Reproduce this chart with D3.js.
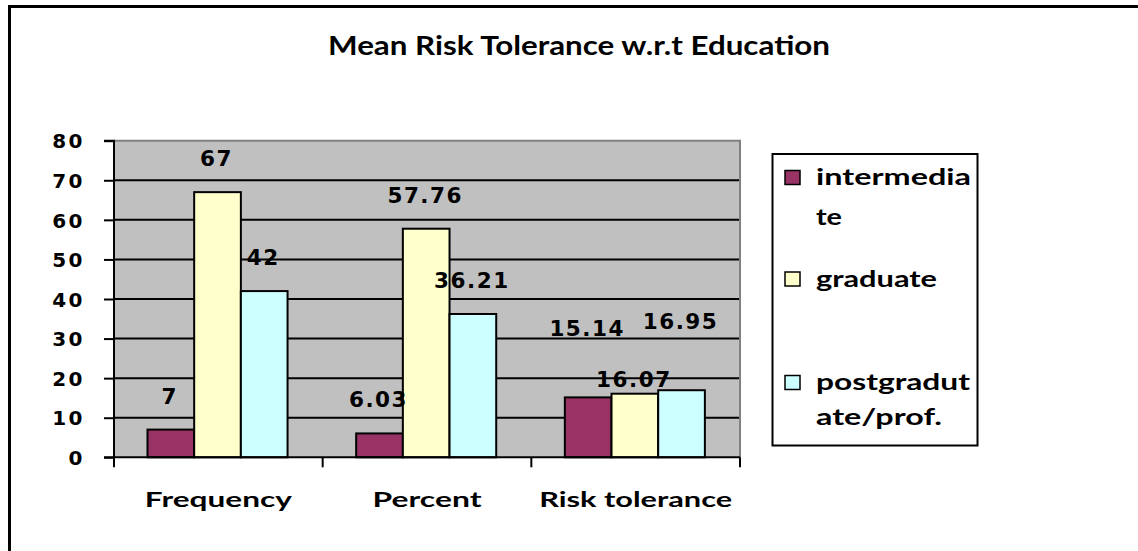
<!DOCTYPE html>
<html>
<head>
<meta charset="utf-8">
<script src="https://cdn.jsdelivr.net/npm/d3@7"></script>
<style>
  html, body { margin: 0; padding: 0; background: #fff; }
  svg { display: block; }
</style>
</head>
<body>
<svg id="chart" width="1138" height="551"></svg>
<script>
// ---- data ----
const categories = ["Frequency", "Percent", "Risk tolerance"];
const seriesNames = ["intermediate", "graduate", "postgradute/prof."];
const intermediate = [7, 6.03, 15.14];
const graduate = [67, 57.76, 16.07];
const postgraduate = [42, 36.21, 16.95];
const valueLabels = [["7", "6.03", "15.14"], ["67", "57.76", "16.07"], ["42", "36.21", "16.95"]];
const yTicks = [0, 10, 20, 30, 40, 50, 60, 70, 80];
const legendLines = [["intermedia", "te"], ["graduate"], ["postgradut", "ate/prof."]];
const colors = ["#993366", "#FFFFCC", "#CCFFFF"];

const seriesValues = [intermediate, graduate, postgraduate];

// ---- layout ----
const svg = d3.select("#chart");
const plot = { left: 114, right: 740, top: 140.7, bottom: 457.3 };

// chart frame (extends beyond the picture on right/bottom)
svg.append("rect")
  .attr("x", 9.5).attr("y", 6.5).attr("width", 1300).attr("height", 700)
  .attr("fill", "#fff").attr("stroke", "#000").attr("stroke-width", 3);

const x = d3.scaleBand().domain(categories).range([plot.left, plot.right]).padding(0);
const y = d3.scaleLinear().domain([0, 80]).range([plot.bottom, plot.top]);
const barW = x.bandwidth() / 4.47;
const xs = d3.scaleBand().domain(d3.range(3))
  .range([0, barW * 3]).padding(0);
const groupOffset = 33.5;

// plot background
svg.append("rect")
  .attr("x", plot.left).attr("y", plot.top)
  .attr("width", plot.right - plot.left).attr("height", plot.bottom - plot.top)
  .attr("fill", "#C0C0C0");

// gridlines
svg.append("g").selectAll("line")
  .data(yTicks.filter(t => t > 0 && t < 80))
  .join("line")
  .attr("x1", plot.left).attr("x2", plot.right)
  .attr("y1", d => y(d)).attr("y2", d => y(d))
  .attr("stroke", "#000").attr("stroke-width", 2);

// plot border top/right (gray)
svg.append("path")
  .attr("d", `M${plot.left},${y(80)}H${plot.right}V${plot.bottom}`)
  .attr("fill", "none").attr("stroke", "#808080").attr("stroke-width", 2);

// bars
const barData = [];
seriesValues.forEach((vals, s) => {
  vals.forEach((v, c) => barData.push({ s, c, v, label: valueLabels[s][c] }));
});
svg.append("g").selectAll("rect")
  .data(barData)
  .join("rect")
  .attr("x", d => x(categories[d.c]) + groupOffset + xs(d.s))
  .attr("y", d => y(d.v))
  .attr("width", barW)
  .attr("height", d => y(0) - y(d.v))
  .attr("fill", d => colors[d.s])
  .attr("stroke", "#000").attr("stroke-width", 2);

// y axis
const yAxis = svg.append("g")
  .attr("transform", `translate(${plot.left},0)`)
  .call(d3.axisLeft(y).tickValues(yTicks).tickSize(10).tickFormat(d3.format("d")));
yAxis.select(".domain").attr("stroke", "#000").attr("stroke-width", 2)
  .attr("d", `M-10,${y(80)}H0V${plot.bottom}`);
yAxis.selectAll(".tick line").attr("stroke", "#000").attr("stroke-width", 2);
yAxis.selectAll(".tick text")
  .attr("x", -29).attr("dy", "0.36em")
  .attr("font-family", "DejaVu Sans").attr("font-weight", "bold")
  .attr("font-size", 20).attr("letter-spacing", 2.5).attr("fill", "#000")
  .attr("text-anchor", "end");

// x axis
const xAxis = svg.append("g")
  .attr("transform", `translate(0,${plot.bottom})`);
xAxis.append("line")
  .attr("x1", plot.left - 10).attr("x2", plot.right)
  .attr("stroke", "#000").attr("stroke-width", 2);
const tickXs = categories.map(c => x(c)).concat([plot.right]);
xAxis.selectAll("line.tk").data(tickXs).join("line").attr("class", "tk")
  .attr("x1", d => d).attr("x2", d => d).attr("y1", 0).attr("y2", 10)
  .attr("stroke", "#000").attr("stroke-width", 2);
const xLabelW = { "Frequency": 147, "Percent": 109, "Risk tolerance": 193 };
svg.append("g").selectAll("text").data(categories).join("text")
  .attr("x", d => x(d) + x.bandwidth() / 2)
  .attr("y", 507)
  .attr("text-anchor", "middle")
  .attr("font-family", "Lato").attr("font-weight", "bold").attr("font-size", 21)
  .attr("textLength", d => xLabelW[d]).attr("lengthAdjust", "spacingAndGlyphs")
  .text(d => d);

// data labels
const lift = (d) => {
  if (d.c === 2) return d.s === 1 ? 7 : 61;
  return 26;
};
svg.append("g").selectAll("text").data(barData).join("text")
  .attr("x", d => x(categories[d.c]) + groupOffset + xs(d.s) + barW / 2 - 1)
  .attr("y", d => y(d.v) - lift(d))
  .attr("text-anchor", "middle")
  .attr("font-family", "DejaVu Sans").attr("font-weight", "bold").attr("font-size", 21.5)
  .attr("letter-spacing", 1.5)
  .attr("fill", "#000")
  .text(d => d.label);

// title
svg.append("text")
  .attr("x", 579).attr("y", 55)
  .attr("text-anchor", "middle")
  .attr("font-family", "Lato").attr("font-weight", "bold").attr("font-size", 26)
  .attr("textLength", 502).attr("lengthAdjust", "spacingAndGlyphs")
  .text("Mean Risk Tolerance w.r.t Education");

// legend
const legend = svg.append("g");
legend.append("rect")
  .attr("x", 772.5).attr("y", 154).attr("width", 205).attr("height", 291.5)
  .attr("fill", "#fff").attr("stroke", "#000").attr("stroke-width", 2);
const swatchY = [170.5, 272, 375.5];
const lineBase = [[185, 225], [286.7], [390, 425]];
const lineW = [[155, 26], [121], [154, 126]];
seriesNames.forEach((name, i) => {
  legend.append("rect")
    .attr("x", 785).attr("y", swatchY[i]).attr("width", 15).attr("height", 14)
    .attr("fill", colors[i]).attr("stroke", "#000").attr("stroke-width", 1.5);
  legendLines[i].forEach((t, j) => {
    legend.append("text")
      .attr("x", 816).attr("y", lineBase[i][j])
      .attr("font-family", "Lato").attr("font-weight", "bold").attr("font-size", 22)
      .attr("textLength", lineW[i][j]).attr("lengthAdjust", "spacingAndGlyphs")
      .text(t);
  });
});
</script>
</body>
</html>
